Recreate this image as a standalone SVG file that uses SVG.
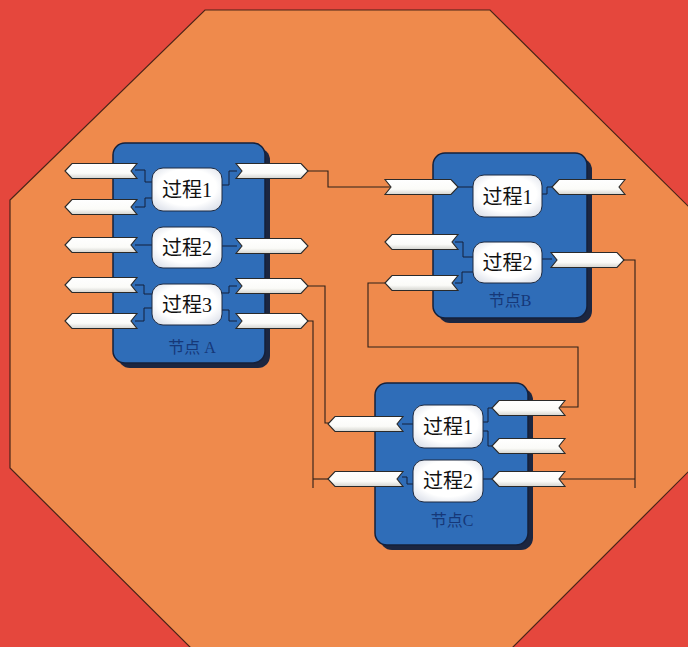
<svg xmlns="http://www.w3.org/2000/svg" width="688" height="647" viewBox="0 0 688 647">
<defs>
<linearGradient id="pg" x1="0" y1="0" x2="0" y2="1">
<stop offset="0" stop-color="#ffffff"/><stop offset="0.65" stop-color="#fbfbf8"/><stop offset="1" stop-color="#d4d4cf"/>
</linearGradient>
<radialGradient id="bg" cx="0.5" cy="0.45" r="0.7">
<stop offset="0.6" stop-color="#ffffff"/><stop offset="1" stop-color="#d6dbe6"/>
</radialGradient>
<style>
.oct{fill:#EF8A4C;stroke:#4a2418;stroke-width:1.2}
.shadow{fill:#1c2640}
.node{fill:#2F6DB8;stroke:#15203a;stroke-width:1.5}
.proc{fill:url(#bg);stroke:#1e2a40;stroke-width:1}
.port{fill:url(#pg);stroke:#2a2a2a;stroke-width:1.1;stroke-linejoin:miter}
.wire{fill:none;stroke:#2e2018;stroke-width:1.1}
.iw{fill:none;stroke:#15203a;stroke-width:1}
.pt{font-family:"Liberation Serif","Noto Sans CJK SC",serif;font-size:20px;fill:#111;text-anchor:middle}
.nt{font-family:"Liberation Serif","Noto Sans CJK SC",serif;font-size:16px;fill:#163878;text-anchor:middle}
</style>
</defs>
<rect x="0" y="0" width="688" height="647" fill="#E5473D"/>
<polygon class="oct" points="205,10 490,10 690,208 690,470 505,655 198,655 10,468 10,200"/>

<g id="connectors">
<polyline class="wire" points="304,171 328,171 328,187 392,187"/>
<polyline class="wire" points="304,286 325,286 325,423 332,423"/>
<polyline class="wire" points="304,321 313,321 313,488"/>
<polyline class="wire" points="313,479 332,479"/>
<polyline class="wire" points="390,283 368,283 368,347 578,347 578,407 560,407"/>
<polyline class="wire" points="619,260 635,260 635,488"/>
<polyline class="wire" points="635,479 560,479"/>
</g>

<g id="nodeA">
<rect class="shadow" x="118" y="148" width="152" height="220" rx="12"/>
<rect class="node" x="113" y="143" width="152" height="220" rx="12"/>
<polyline class="iw" points="135,170 145,170 145,182 152,182"/>
<polyline class="iw" points="135,207 145,207 145,198 152,198"/>
<polyline class="iw" points="135,245 152,245"/>
<polyline class="iw" points="135,285 144,285 144,294 152,294"/>
<polyline class="iw" points="135,321 144,321 144,308 152,308"/>
<polyline class="iw" points="222,185 229,185 229,171 237,171"/>
<polyline class="iw" points="222,246 237,246"/>
<polyline class="iw" points="222,293 229,293 229,286 237,286"/>
<polyline class="iw" points="222,310 229,310 229,321 237,321"/>
<polygon class="port" points="65,171 72,163.5 137,163.5 131,171 137,178.5 72,178.5"/>
<polygon class="port" points="65,207 72,199.5 137,199.5 131,207 137,214.5 72,214.5"/>
<polygon class="port" points="65,245 72,237.5 137,237.5 131,245 137,252.5 72,252.5"/>
<polygon class="port" points="65,285 72,277.5 137,277.5 131,285 137,292.5 72,292.5"/>
<polygon class="port" points="65,321 72,313.5 137,313.5 131,321 137,328.5 72,328.5"/>
<polygon class="port" points="308,171 301,163.5 236,163.5 242,171 236,178.5 301,178.5"/>
<polygon class="port" points="308,246 301,238.5 236,238.5 242,246 236,253.5 301,253.5"/>
<polygon class="port" points="308,286 301,278.5 236,278.5 242,286 236,293.5 301,293.5"/>
<polygon class="port" points="308,321 301,313.5 236,313.5 242,321 236,328.5 301,328.5"/>
<rect class="proc" x="152" y="168" width="70" height="43" rx="11"/>
<rect class="proc" x="152" y="227" width="70" height="41" rx="11"/>
<rect class="proc" x="152" y="284" width="70" height="41" rx="11"/>
<text class="pt" x="187" y="197">过程1</text>
<text class="pt" x="187" y="255">过程2</text>
<text class="pt" x="187" y="312">过程3</text>
<text class="nt" x="192" y="353">节点 A</text>
</g>

<g id="nodeB">
<rect class="shadow" x="438" y="158" width="154" height="165" rx="12"/>
<rect class="node" x="433" y="153" width="154" height="165" rx="12"/>
<polyline class="iw" points="457,187 473,187"/>
<polyline class="iw" points="542,194 547,194 547,187 552,187"/>
<polyline class="iw" points="455,242 463,242 463,257 473,257"/>
<polyline class="iw" points="455,283 462,283 462,272 473,272"/>
<polyline class="iw" points="542,259 552,259"/>
<polygon class="port" points="458,187 451,179.5 385,179.5 391,187 385,194.5 451,194.5"/>
<polygon class="port" points="552,187 559,179.5 625,179.5 619,187 625,194.5 559,194.5"/>
<polygon class="port" points="385,242 392,234.5 458,234.5 452,242 458,249.5 392,249.5"/>
<polygon class="port" points="385,283 392,275.5 458,275.5 452,283 458,290.5 392,290.5"/>
<polygon class="port" points="624,260 617,252.5 551,252.5 557,260 551,267.5 617,267.5"/>
<rect class="proc" x="473" y="175" width="69" height="42" rx="11"/>
<rect class="proc" x="473" y="242" width="69" height="41" rx="11"/>
<text class="pt" x="507.5" y="204">过程1</text>
<text class="pt" x="507.5" y="270">过程2</text>
<text class="nt" x="510" y="306">节点B</text>
</g>

<g id="nodeC">
<rect class="shadow" x="380" y="388" width="153" height="162" rx="12"/>
<rect class="node" x="375" y="383" width="153" height="162" rx="12"/>
<polyline class="iw" points="402,424 413,424"/>
<polyline class="iw" points="402,477 407,477 407,484 413,484"/>
<polyline class="iw" points="483,422 488,422 488,408 493,408"/>
<polyline class="iw" points="483,431 488,431 488,446 493,446"/>
<polyline class="iw" points="483,479 493,479"/>
<polygon class="port" points="328,424 335,416.5 403,416.5 397,424 403,431.5 335,431.5"/>
<polygon class="port" points="328,479 335,471.5 403,471.5 397,479 403,486.5 335,486.5"/>
<polygon class="port" points="492,408 499,400.5 565,400.5 559,408 565,415.5 499,415.5"/>
<polygon class="port" points="492,446 499,438.5 565,438.5 559,446 565,453.5 499,453.5"/>
<polygon class="port" points="492,479 499,471.5 565,471.5 559,479 565,486.5 499,486.5"/>
<rect class="proc" x="413" y="405" width="70" height="43" rx="11"/>
<rect class="proc" x="413" y="460" width="70" height="42" rx="11"/>
<text class="pt" x="448" y="434">过程1</text>
<text class="pt" x="448" y="488">过程2</text>
<text class="nt" x="452" y="526">节点C</text>
</g>
</svg>
